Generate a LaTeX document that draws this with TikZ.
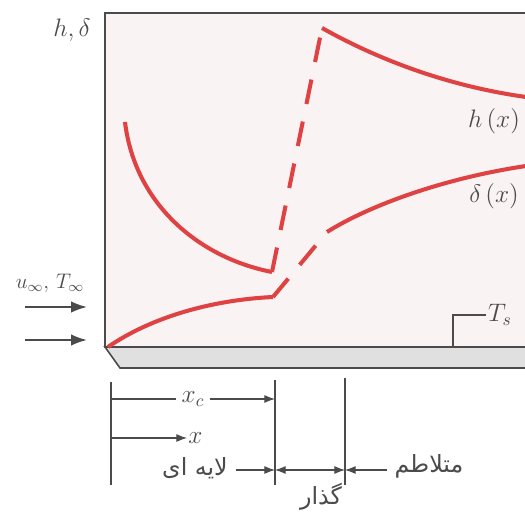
\documentclass[tikz,border=0pt]{standalone}
\usepackage{fontspec}
\usetikzlibrary{arrows.meta}
\newfontfamily\arabicfont[Script=Arabic]{DejaVu Sans}
\TeXXeTstate=1
\definecolor{curvered}{RGB}{222,66,66}
\definecolor{boxfill}{RGB}{250,243,243}
\definecolor{platefill}{RGB}{224,224,224}
\definecolor{inkgray}{RGB}{75,75,75}

\begin{document}
\begin{tikzpicture}[x=0.02cm,y=-0.02cm,
    redcurve/.style={curvered, line width=2.3pt},
    dimline/.style={inkgray, line width=0.6pt},
    dimarrow/.style={dimline, -{Latex[length=6pt,width=4.5pt]}},
    flowarrow/.style={inkgray, line width=1.1pt, -{Latex[length=9pt,width=6.5pt]}},
    lbl/.style={inkgray, inner sep=1pt},
    falbl/.style={lbl, font=\arabicfont\fontsize{13.5}{16}\selectfont}]
    \clip (0,0) rectangle (525,520);
    \fill[white] (0,0) rectangle (525,520);

    % Box and plate
    \draw[inkgray, line width=1.2pt, fill=boxfill] (105,13) rectangle (560,347);
    \draw[inkgray, line width=0.9pt, fill=platefill] (105,347) -- (560,347) -- (560,368) -- (120,368) -- cycle;

    % Axis label
    \node[lbl, font=\Large] (hdlabel) at (72,30) {$h,\delta$};

    % Curve points
    \coordinate (hlamstart) at (125,122);
    \coordinate (hlamend) at (272,272);
    \coordinate (hturbstart) at (322,28);
    \coordinate (hturbend) at (526,97);
    \coordinate (dlamstart) at (108,347);
    \coordinate (dlamend) at (273,297);
    \coordinate (dturbstart) at (327,232);
    \coordinate (dturbend) at (526,166);

    % h(x)
    \draw[redcurve] (hlamstart) .. controls (135,205) and (200,258) .. (hlamend);
    \draw[redcurve, dash pattern=on 14.2pt off 10.2pt] (hlamend) -- (hturbstart);
    \draw[redcurve] (hturbstart) .. controls (370,55) and (440,85) .. (hturbend);
    \node[lbl, font=\Large] (hlabel) at (494,121) {$h\,(x)$};

    % delta(x)
    \draw[redcurve] (dlamstart) .. controls (150,318) and (210,300) .. (dlamend);
    \draw[redcurve, dash pattern=on 13.6pt off 10.2pt on 14.2pt off 10.2pt] (dlamend) -- (dturbstart);
    \draw[redcurve] (dturbstart) .. controls (370,205) and (445,178) .. (dturbend);
    \node[lbl, font=\Large] (dlabel) at (494,196) {$\delta\,(x)$};

    % Free stream
    \node[lbl, font=\large] (flowlabel) at (50,283) {$u_\infty,\,T_\infty$};
    \coordinate (flowAa) at (25,307);
    \coordinate (flowAb) at (87,307);
    \coordinate (flowBa) at (25,340);
    \coordinate (flowBb) at (87,340);
    \draw[flowarrow] (flowAa) -- (flowAb);
    \draw[flowarrow] (flowBa) -- (flowBb);

    % Surface temperature
    \node[lbl, font=\Large] (tslabel) at (500,315) {$T_s$};
    \coordinate (tsfoot) at (453,347);
    \draw[dimline] (tsfoot) |- (tslabel.west);

    % Regions below the plate
    \coordinate (leadtop) at (111,382);
    \coordinate (leadbot) at (111,485);
    \coordinate (crittop) at (275,380);
    \coordinate (critbot) at (275,485);
    \coordinate (turbtop) at (345,378);
    \coordinate (turbbot) at (345,485);
    \draw[dimline] (leadtop) -- (leadbot);
    \draw[dimline] (crittop) -- (critbot);
    \draw[dimline] (turbtop) -- (turbbot);

    \draw[dimarrow] (111,399) -- node[fill=white, font=\Large, inner sep=3pt] (xclabel) {$x_c$} (275,399);
    \draw[dimarrow] (111,438) -- (187,438) node[lbl, right, font=\Large, inner sep=0.5pt] (xlabel) {$x$};

    \node[falbl] (lamlabel) at (195,468) {\beginR لایه ای\endR};
    \node[falbl] (turblabel) at (429,466) {\beginR متلاطم\endR};
    \node[falbl] (translabel) at (321,497) {\beginR گذار\endR};
    \draw[dimarrow] (lamlabel.east) ++(6,2) -- (275,470);
    \draw[dimline, {Latex[length=6pt,width=4.5pt]}-{Latex[length=6pt,width=4.5pt]}] (275,470) -- (345,470);
    \draw[dimarrow] (turblabel.west) ++(-6,4) -- (345,470);
\end{tikzpicture}
\end{document}
